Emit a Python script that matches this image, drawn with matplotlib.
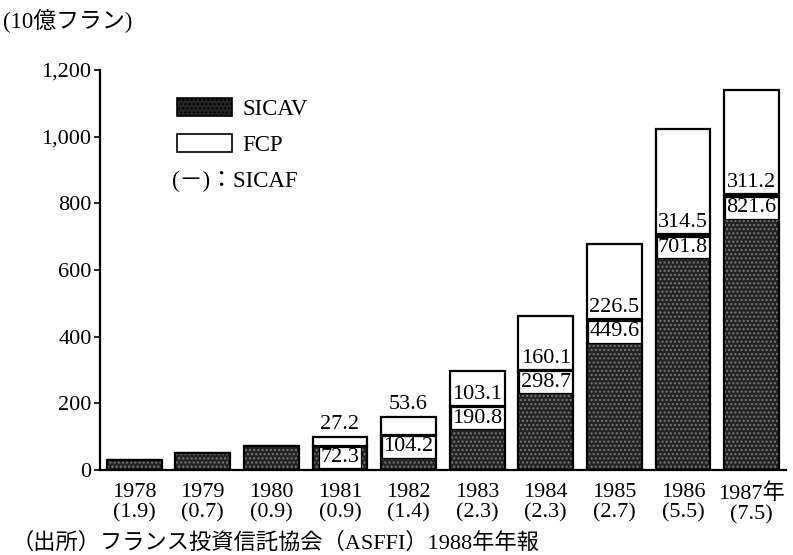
import matplotlib
matplotlib.use("Agg")
import matplotlib.pyplot as plt
import numpy as np
from matplotlib.patches import Patch

plt.rcParams["font.family"] = ["Liberation Serif", "Noto Sans CJK JP"]
plt.rcParams["hatch.linewidth"] = 1.0

# 投資信託残高（10億フラン）
years = ["1978", "1979", "1980", "1981", "1982", "1983", "1984", "1985", "1986", "1987年"]
sicav = [29.0, 50.0, 72.0, 72.3, 104.2, 190.8, 298.7, 449.6, 701.8, 821.6]
fcp = [0.0, 0.0, 0.0, 27.2, 53.6, 103.1, 160.1, 226.5, 314.5, 311.2]
sicaf = [1.9, 0.7, 0.9, 0.9, 1.4, 2.3, 2.3, 2.7, 5.5, 7.5]
labelled = [False, False, False, True, True, True, True, True, True, True]

DARK = "#242424"
STIPPLE = "#7a7a7a"
FS = 16

fig = plt.figure(figsize=(7.93, 5.55), dpi=100)
ax = fig.add_axes([0.126, 0.153, 0.865, 0.721])

x = np.arange(len(years))
w = 0.8
sicav = np.array(sicav)
fcp = np.array(fcp)
sicaf = np.array(sicaf)

# SICAV: dark stippled base
ax.bar(x, sicav, w, color=DARK, hatch="....", edgecolor=STIPPLE, linewidth=0, zorder=2)
ax.bar(x, sicav, w, fill=False, edgecolor="black", linewidth=1.6, zorder=3)
# SICAF: thin dark band between the two
ax.bar(x, sicaf, w, bottom=sicav, color="black", edgecolor="black", linewidth=1.2, zorder=3)
# FCP: white top
ax.bar(x, fcp, w, bottom=sicav + sicaf, facecolor="white", edgecolor="black",
       linewidth=1.6, zorder=3)

for xi, s, f, c, lab in zip(x, sicav, fcp, sicaf, labelled):
    if not lab:
        continue
    ax.annotate(f"{s:.1f}", (xi, s), xytext=(0, -1.5), textcoords="offset points",
                ha="center", va="top", fontsize=FS, zorder=5,
                bbox=dict(boxstyle="square,pad=0.06", fc="white", ec="black", lw=0.9))
    if f > 100:
        ax.annotate(f"{f:.1f}", (xi, s + c), xytext=(0, 1.5), textcoords="offset points",
                    ha="center", va="bottom", fontsize=FS, zorder=5)
    else:
        ax.annotate(f"{f:.1f}", (xi, s + c + f), xytext=(0, 2), textcoords="offset points",
                    ha="center", va="bottom", fontsize=FS, zorder=5)

ax.set_xlim(-0.5, 9.5)
ax.set_ylim(0, 1200)
ax.set_yticks(range(0, 1201, 200))
ax.set_yticklabels([f"{v:,}" for v in range(0, 1201, 200)], fontsize=FS)
ax.set_xticks(x)
ax.set_xticklabels([f"{y}\n({v:.1f})" for y, v in zip(years, sicaf)], fontsize=FS,
                   linespacing=1.1)
ax.tick_params(axis="x", length=0, pad=9.5)
ax.tick_params(axis="y", direction="out", length=4, width=1.2, pad=2)
for side in ("top", "right"):
    ax.spines[side].set_visible(False)
for side in ("left", "bottom"):
    ax.spines[side].set_linewidth(1.6)

handles = [
    Patch(facecolor=DARK, edgecolor="black", hatch="....", linewidth=1.2),
    Patch(facecolor="white", edgecolor="black", linewidth=1.2),
]
leg = ax.legend(handles, ["SICAV", "FCP"], loc="upper left", bbox_to_anchor=(0.112, 0.93),
                frameon=False, fontsize=FS + 0.5, handlelength=2.4, handleheight=0.85,
                handletextpad=0.45, labelspacing=0.6, borderpad=0, borderaxespad=0)
ax.text(0.105, 0.722, "(－)：SICAF", transform=ax.transAxes, fontsize=FS + 0.5,
        ha="left", va="center")

fig.text(0.004, 0.962, "(10億フラン)", fontsize=FS + 0.5, ha="left", va="center")
fig.text(0.015, 0.022, "（出所）フランス投資信託協会（ASFFI）1988年年報", fontsize=FS,
         ha="left", va="center")

fig.savefig("out.png", dpi=100)
